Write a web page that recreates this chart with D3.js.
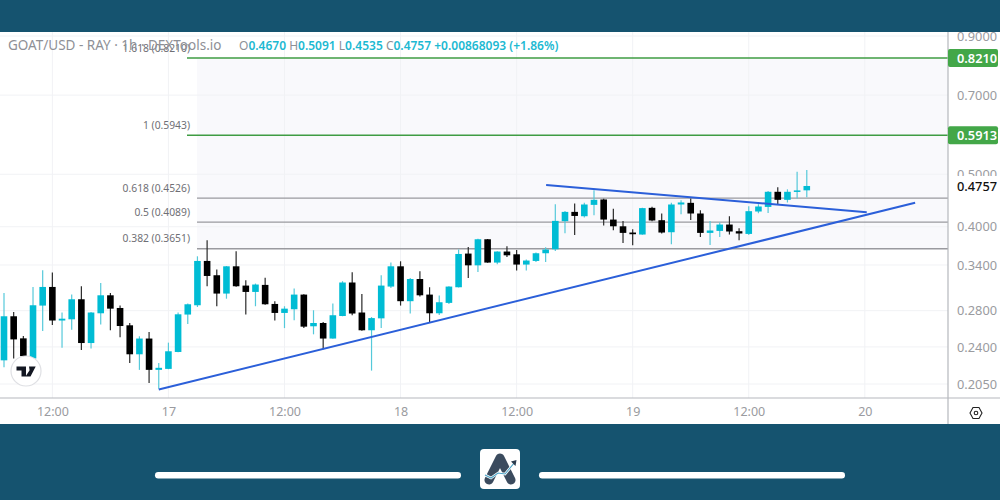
<!DOCTYPE html>
<html><head><meta charset="utf-8">
<style>html,body{margin:0;padding:0;background:#fff;overflow:hidden}svg{display:block}text{font-family:"Noto Sans",sans-serif}</style>
<script src="https://cdn.jsdelivr.net/npm/d3@7"></script></head><body>
<svg id="c" width="1000" height="500"></svg>
<script>
const opens=[.2267,.2734,.2489,.2285,.2861,.3097,.2685,.2699,.2939,.2440,.2769,.2989,.2832,.2631,.2326,.2487,.2177,.2186,.2349,.2754,.2865,.3459,.3255,.3011,.3381,.3115,.3032,.3124,.2881,.2773,.2817,.2998,.2620,.2657,.2487,.2737,.3156,.2778,.2576,.2710,.3102,.3381,.2915,.3203,.2998,.2769,.2894,.3093,.3569,.3395,.3793,.3435,.3600,.3558,.3406,.3459,.3574,.3635,.4096,.4261,.4183,.4390,.4492,.4124,.4008,.3903,.3870,.4335,.4113,.3908,.4397,.4428,.4232,.3897,.3930,.4038,.3925,.3880,.4268,.4352,.4641,.4485,.4648,.4670];
const highs=[.3019,.2785,.2514,.3097,.3325,.3293,.2778,.2998,.3106,.2785,.3151,.3019,.2861,.2657,.2511,.2557,.2241,.2444,.2778,.2886,.3528,.3777,.3337,.3385,.3605,.3187,.3142,.3222,.2915,.2853,.3075,.3002,.2805,.2669,.2886,.3174,.3297,.3006,.2725,.3255,.3435,.3454,.3216,.3311,.3093,.2985,.3106,.3631,.3669,.3803,.3797,.3605,.3680,.3625,.3479,.3585,.3665,.4403,.4279,.4416,.4428,.4674,.4504,.4316,.4101,.3959,.4335,.4354,.4232,.4428,.4479,.4511,.4292,.4101,.4073,.4183,.3976,.4365,.4403,.4655,.4733,.4690,.5052,.5091];
const lows=[.2202,.2285,.2267,.2248,.2568,.2634,.2391,.2582,.2370,.2384,.2639,.2576,.2500,.2241,.2177,.2059,.2010,.2183,.2346,.2646,.2844,.3106,.2853,.2946,.3100,.2754,.2853,.2872,.2685,.2600,.2688,.2600,.2532,.2376,.2484,.2734,.2746,.2572,.2170,.2600,.3084,.2861,.2766,.2973,.2657,.2749,.2881,.3090,.3216,.3301,.3432,.3410,.3518,.3321,.3321,.3444,.3444,.3609,.3892,.3863,.4160,.4201,.4020,.3942,.3734,.3697,.3867,.4096,.3887,.3713,.4219,.4118,.3831,.3701,.3831,.3870,.3777,.3863,.4237,.4243,.4397,.4435,.4511,.4535];
const closes=[.2734,.2478,.2308,.2865,.3097,.2685,.2706,.2939,.2440,.2778,.2989,.2824,.2623,.2326,.2487,.2177,.2196,.2356,.2757,.2877,.3459,.3245,.3011,.3381,.3106,.3032,.3129,.2877,.2773,.2824,.2998,.2616,.2657,.2487,.2746,.3156,.2766,.2576,.2713,.3115,.3381,.2915,.3203,.2989,.2769,.2902,.3102,.3563,.3395,.3793,.3435,.3600,.3543,.3406,.3465,.3574,.3631,.4101,.4261,.4188,.4397,.4485,.4124,.4008,.3897,.3875,.4330,.4108,.3903,.4397,.4435,.4232,.3897,.3937,.4038,.3920,.3887,.4274,.4360,.4641,.4485,.4641,.4668,.4757];
const priceTicks=[0.9,0.7,0.5,0.4,0.34,0.28,0.24,0.205];
const timeTicks=[5,17,29,41,53,65,77,89];
const timeLabels=["12:00","17","12:00","18","12:00","19","12:00","20"];
const fibGreen=[{label:"1.618 (0.8210)",price:0.8210,tag:"0.8210"},{label:"1 (0.5943)",price:0.5913,tag:"0.5913"}];
const fibGrey=[{label:"0.618 (0.4526)",price:0.4526},{label:"0.5 (0.4089)",price:0.4089},{label:"0.382 (0.3651)",price:0.3651}];
const trendUp=[[16,0.2003],[94.2,0.4428]];
const trendDown=[[56.05,0.4775],[89.2,0.4255]];
const legendTitle="GOAT/USD - RAY · 1h · DEXTools.io";
const legendOHLC=[["O","0.4670"],["H","0.5091"],["L","0.4535"],["C","0.4757"]];
const legendChange="+0.00868093 (+1.86%)";
const lastPrice=0.4757;

const svg=d3.select("#c");
const W=948,T=32,B=398,BANNER="#15536f";
const x=d3.scaleLinear().domain([0,97.6]).range([4,W]);
const y=d3.scaleLog().domain([0.9,0.205]).range([36,384]);
const UP="#00bcd4",UPW="#55c9da",DN="#000000",DNW="#2a2a2a";
svg.append("rect").attr("width",1000).attr("height",500).attr("fill","#fff");
svg.append("defs").append("clipPath").attr("id","pane").append("rect").attr("x",0).attr("y",T).attr("width",W).attr("height",B-T);
const pane=svg.append("g").attr("clip-path","url(#pane)");
pane.append("rect").attr("x",197).attr("width",W-197).attr("y",y(0.8210)).attr("height",y(0.3651)-y(0.8210)).attr("fill","#f9f9fc");
pane.selectAll("line.gx").data(timeTicks).join("line").attr("x1",d=>x(d)).attr("x2",d=>x(d)).attr("y1",T).attr("y2",B).attr("stroke","#f1f2f5");
pane.selectAll("line.gy").data(priceTicks).join("line").attr("x1",0).attr("x2",W).attr("y1",d=>y(d)).attr("y2",d=>y(d)).attr("stroke","#f1f2f5");
pane.selectAll("line.fg").data(fibGreen).join("line").attr("x1",187).attr("x2",W).attr("y1",d=>y(d.price)+0.5).attr("y2",d=>y(d.price)+0.5).attr("stroke","#3f9c43").attr("stroke-width",1.5);
pane.selectAll("line.fy").data(fibGrey).join("line").attr("x1",197).attr("x2",W).attr("y1",d=>y(d.price)+0.5).attr("y2",d=>y(d.price)+0.5).attr("stroke","#9a9a9f").attr("stroke-width",1.3);
const candles=opens.map((o,i)=>({i,o,h:highs[i],l:lows[i],c:closes[i]}));
pane.selectAll("line.w").data(candles).join("line").attr("x1",d=>x(d.i)).attr("x2",d=>x(d.i)).attr("y1",d=>y(d.h)).attr("y2",d=>y(d.l)).attr("stroke",d=>d.c>=d.o?UPW:DNW).attr("stroke-width",1.2);
pane.selectAll("rect.b").data(candles).join("rect").attr("x",d=>x(d.i)-3.3).attr("width",6.6).attr("y",d=>y(Math.max(d.o,d.c))).attr("height",d=>Math.max(1.5,Math.abs(y(d.o)-y(d.c)))).attr("fill",d=>d.c>=d.o?UP:DN);
const ln=d3.line().x(d=>x(d[0])).y(d=>y(d[1]));
[trendUp,trendDown].forEach(t=>pane.append("path").attr("d",ln(t)).attr("fill","none").attr("stroke","#2b5fd9").attr("stroke-width",2));
// legend + fib labels (the 1.618 label sits under the title, as in the source)
svg.selectAll("text.fl").data(fibGreen.concat(fibGrey)).join("text").attr("x",190).attr("y",d=>y(d.price)-6).attr("text-anchor","end").attr("font-size",10.3).attr("fill","#6f6f75").text(d=>d.label);
const tv=svg.append("g").attr("transform","translate(26,371)");
tv.append("circle").attr("r",15).attr("fill","#fff").attr("stroke","#dfe0e4").attr("stroke-width",1.2);
tv.append("path").attr("d","M-9.5,-4.5H0V5.5H-4.5V-0.5H-9.5ZM3,-4.5H9.7L4.5,5.5H-0.5L3.6,-0.8Z").attr("fill","#131722");
svg.append("text").attr("x",8).attr("y",50).attr("font-size",13.5).attr("fill","#8e9096").text(legendTitle);
const ov=svg.append("text").attr("x",239).attr("y",50).attr("font-size",12).attr("font-weight",600);
legendOHLC.forEach(([k,v])=>{ov.append("tspan").attr("fill","#8e9096").attr("font-weight",400).text(k);ov.append("tspan").attr("fill","#1cb9d2").text(v+" ");});
ov.append("tspan").attr("fill","#1cb9d2").text(legendChange);
svg.append("line").attr("x1",W).attr("x2",W).attr("y1",T).attr("y2",424).attr("stroke","#b5b7bd").attr("stroke-width",1.2);
svg.append("line").attr("x1",0).attr("x2",1000).attr("y1",B).attr("y2",B).attr("stroke","#b5b7bd").attr("stroke-width",1.2);
const ya=svg.append("g").attr("transform",`translate(${W},0)`).call(d3.axisRight(y).tickValues(priceTicks).tickSize(0).tickPadding(9).tickFormat(d3.format(".4f")));
ya.select(".domain").remove();
ya.selectAll("text").attr("font-size",12.8).attr("fill","#9a9ba0").style("font-family",'"Noto Sans",sans-serif');
const xa=svg.append("g").attr("transform",`translate(0,${B})`).call(d3.axisBottom(x).tickValues(timeTicks).tickSize(0).tickPadding(9).tickFormat((d,i)=>timeLabels[i]));
xa.select(".domain").remove();
xa.selectAll("text").attr("font-size",12.5).attr("fill","#9a9ba0").style("font-family",'"Noto Sans",sans-serif');
const tags=svg.selectAll("g.tag").data(fibGreen).join("g").attr("transform",d=>`translate(948,${y(d.price)+0.5})`);
tags.append("rect").attr("x",0).attr("y",-9).attr("width",50).attr("height",18).attr("rx",2).attr("fill","#43a748");
tags.append("text").attr("x",9).attr("y",4.5).attr("font-size",12.8).attr("font-weight",600).attr("fill","#fff").text(d=>d.tag);
svg.append("rect").attr("x",949).attr("y",y(lastPrice)-10).attr("width",51).attr("height",21).attr("fill","#fff");
svg.append("text").attr("x",957).attr("y",y(lastPrice)+5).attr("font-size",12.8).attr("font-weight",500).attr("fill","#111").text(d3.format(".4f")(lastPrice));
const s=svg.append("g").attr("transform","translate(976,413)");
s.append("path").attr("d","M-6,0L-3,-5.5H3L6,0L3,5.5H-3Z").attr("fill","none").attr("stroke","#222").attr("stroke-width",1.1);
s.append("circle").attr("r",1.8).attr("fill","none").attr("stroke","#222").attr("stroke-width",1.1);
svg.append("rect").attr("width",1000).attr("height",T).attr("fill",BANNER);
svg.append("rect").attr("y",424).attr("width",1000).attr("height",76).attr("fill",BANNER);
[[155,306],[539,306]].forEach(([a,w])=>svg.append("rect").attr("x",a).attr("y",472).attr("width",w).attr("height",6.5).attr("rx",3.2).attr("fill","#fff"));
const lo=svg.append("g").attr("transform","translate(480,449)");
lo.append("rect").attr("width",40).attr("height",40).attr("rx",4).attr("fill","#fff");
lo.append("path").attr("d","M9,31L20,9L31,31").attr("fill","none").attr("stroke","#3b4b5e").attr("stroke-width",9).attr("stroke-linecap","round").attr("stroke-linejoin","round");
const tr="M5,26L11,29L18,24L25,25L35,13";
lo.append("path").attr("d",tr).attr("fill","none").attr("stroke","#fff").attr("stroke-width",2.6);
lo.append("path").attr("d",tr).attr("fill","none").attr("stroke","#4aa3c7").attr("stroke-width",1.1);
lo.append("path").attr("d","M31,12.5L36.5,11L35.5,17Z").attr("fill","#2b3b4e");
</script></body></html>
